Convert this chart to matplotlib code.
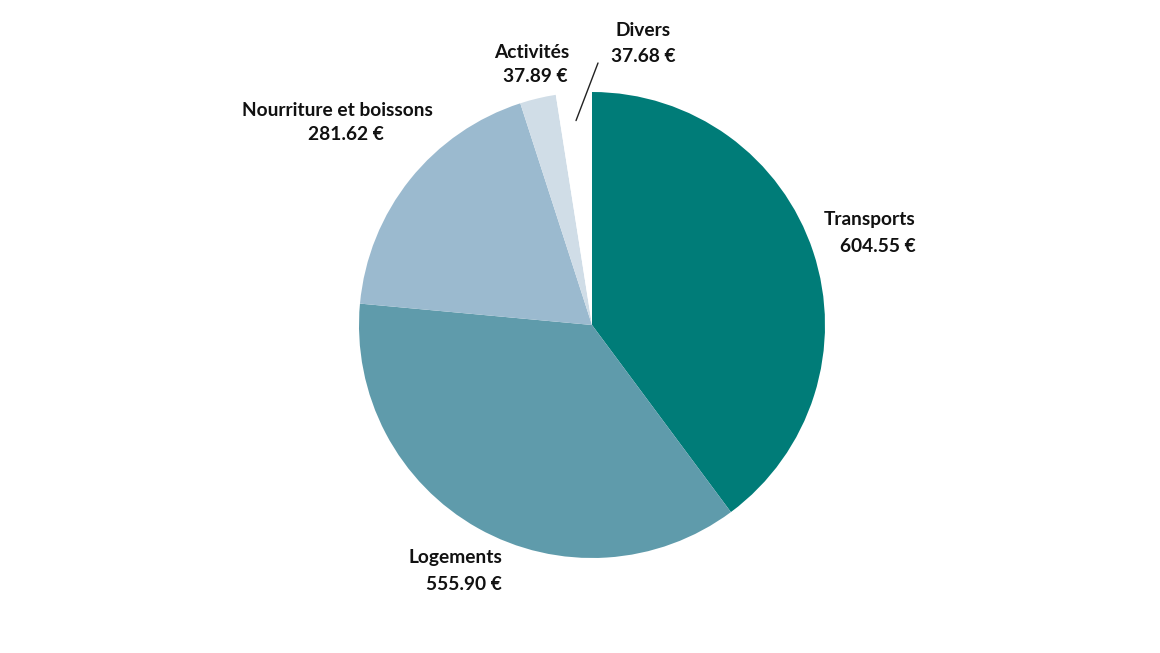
import numpy as np
import matplotlib.pyplot as plt

labels = ['Transports', 'Logements', 'Nourriture et boissons', 'Activités', 'Divers']
values = [604.55, 555.90, 281.62, 37.89, 37.68]
value_labels = ['604.55 €', '555.90 €', '281.62 €', '37.89 €', '37.68 €']
COLORS = ['#007c78', '#5f9bab', '#9bbacf', '#d0dde7', '#ffffff']

W, H = 1160, 653
fig = plt.figure(figsize=(W / 100, H / 100), dpi=100)
ax = fig.add_axes([0, 0, 1, 1])

cx, cy, r = 592, H - 325, 233
wedges, _ = ax.pie(values, colors=COLORS, startangle=90, counterclock=False,
                   center=(cx, cy), radius=r, frame=True,
                   wedgeprops={'linewidth': 0})
ax.set_xlim(0, W)
ax.set_ylim(0, H)
ax.set_aspect('equal')
ax.axis('off')

font = {'family': 'Lato', 'weight': 'bold', 'size': 13.8, 'color': '#111111'}

# label placement in pixel coords (x, y_name, y_value, ha_name, x_value, ha_value)
placement = [
    (916, 220, 246, 'right', 916, 'right'),
    (502, 557, 585, 'right', 502, 'right'),
    (337, 110, 134, 'center', 346, 'center'),
    (569, 52, 77, 'right', 568, 'right'),
    (643, 30, 56, 'center', 643, 'center'),
]
for name, val, (x, y1, y2, ha, x2, ha2) in zip(labels, value_labels, placement):
    ax.text(x, H - y1, name, ha=ha, va='center', fontdict=font)
    ax.text(x2, H - y2, val, ha=ha2, va='center', fontdict=font)

# leader line for Divers
w = wedges[4]
mid = np.deg2rad((w.theta1 + w.theta2) / 2)
x0 = cx + 0.88 * r * np.cos(mid)
y0 = cy + 0.88 * r * np.sin(mid)
ax.annotate('', xy=(x0, y0), xytext=(598, H - 63),
            arrowprops=dict(arrowstyle='-', color='#222222', lw=1.0,
                            shrinkA=0, shrinkB=0))

plt.savefig('out.png', dpi=100)
